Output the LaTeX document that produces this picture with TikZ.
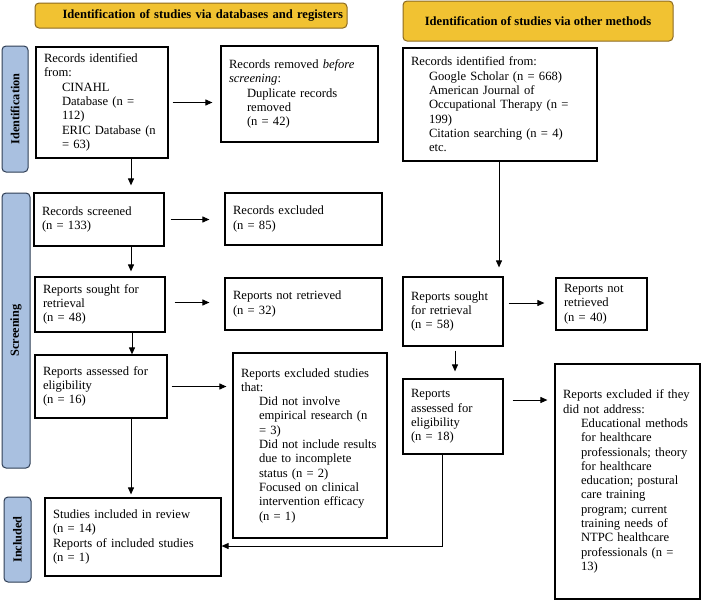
\documentclass[tikz,border=0pt]{standalone}
\usepackage{fontspec}
\setmainfont{Liberation Serif}
\usepackage{tikz}
\usetikzlibrary{positioning}
\usetikzlibrary{arrows.meta}
\usepackage{xcolor}

\definecolor{hdrgold}{RGB}{241,194,50}
\definecolor{hdredge}{RGB}{140,106,32}
\definecolor{sideblue}{RGB}{169,192,224}
\definecolor{sideedge}{RGB}{47,62,85}

\newcommand{\subin}{\hspace*{18pt}}

\tikzset{
  txt/.style={font=\fontsize{12.6}{14.3}\selectfont},
  box/.style={draw, line width=1.2pt, txt, align=left, inner xsep=8pt, inner ysep=2pt},
  hdr/.style={draw=hdredge, fill=hdrgold, line width=1pt, rounded corners=4pt, txt, font=\fontsize{12.6}{14.3}\selectfont\bfseries},
  side/.style={draw=sideedge, fill=sideblue, line width=1pt, rounded corners=4pt, rotate=90, font=\fontsize{12.3}{14}\selectfont\bfseries},
  arr/.style={-{Triangle[length=7pt,width=6pt]}, line width=1pt}
}

\begin{document}
\begin{tikzpicture}[x=1pt,y=-1pt]
\useasboundingbox (0,0) rectangle (701,600);

% headers
\node[hdr, minimum width=312, minimum height=25, text width=304, inner xsep=4pt, align=right] (hdrA) at (191,15.5) {Identification of studies via databases and registers};
\node[hdr, minimum width=270, minimum height=40] (hdrB) at (538,21) {Identification of studies via other methods};

% phase labels
\node[side, minimum width=126, minimum height=26] (sideI) at (15,109) {Identification};
\node[side, minimum width=275, minimum height=28] (sideS) at (16,330.5) {Screening};
\node[side, minimum width=85, minimum height=27] (sideN) at (17.5,539.5) {Included};

% databases and registers
\node[box, minimum width=132, minimum height=111, text width=116] (idDb) at (102,102.5)
{Records identified\\from:\\\subin CINAHL\\\subin Database (n =\\\subin 112)\\\subin ERIC Database (n\\\subin = 63)};
\node[box, minimum width=157, minimum height=96, text width=141] (removed) at (299.5,94)
{Records removed \textit{before}\\\textit{screening}:\\\subin Duplicate records\\\subin removed\\\subin (n = 42)};
\node[box, minimum width=130, minimum height=53, text width=114] (screened) at (99,219.5)
{Records screened\\(n = 133)};
\node[box, minimum width=157, minimum height=52, text width=141] (excluded) at (303.5,219)
{Records excluded\\(n = 85)};
\node[box, minimum width=130, minimum height=55, text width=114] (soughtA) at (100,304.5)
{Reports sought for\\retrieval\\(n = 48)};
\node[box, minimum width=157, minimum height=52, text width=141] (notRetA) at (303.5,304)
{Reports not retrieved\\(n = 32)};
\node[box, minimum width=132, minimum height=63, text width=116] (assessA) at (101,386.5)
{Reports assessed for\\eligibility\\(n = 16)};
\node[box, minimum width=154, minimum height=185, text width=138] (exclA) at (310,445.5)
{Reports excluded studies\\that:\\\subin Did not involve\\\subin empirical research (n\\\subin = 3)\\\subin Did not include results\\\subin due to incomplete\\\subin status (n = 2)\\\subin Focused on clinical\\\subin intervention efficacy\\\subin (n = 1)};
\node[box, minimum width=176, minimum height=78, text width=160] (included) at (133,537)
{Studies included in review\\(n = 14)\\Reports of included studies\\(n = 1)};

% other methods
\node[box, minimum width=194, minimum height=113, text width=178] (idOther) at (500,104.5)
{Records identified from:\\\subin Google Scholar (n = 668)\\\subin American Journal of\\\subin Occupational Therapy (n =\\\subin 199)\\\subin Citation searching (n = 4)\\\subin etc.};
\node[box, minimum width=100, minimum height=69, text width=84] (soughtB) at (453,311.5)
{Reports sought\\for retrieval\\(n = 58)};
\node[box, minimum width=91, minimum height=52, text width=75] (notRetB) at (601.5,304)
{Reports not\\retrieved\\(n = 40)};
\node[box, minimum width=100, minimum height=75, text width=84] (assessB) at (453,416.5)
{Reports\\assessed for\\eligibility\\(n = 18)};
\node[box, minimum width=145, minimum height=235, text width=129] (exclB) at (627.5,481.5)
{Reports excluded if they\\did not address:\\\subin Educational methods\\\subin for healthcare\\\subin professionals; theory\\\subin for healthcare\\\subin education; postural\\\subin care training\\\subin program; current\\\subin training needs of\\\subin NTPC healthcare\\\subin professionals (n =\\\subin 13)};

% arrows left column
\draw[arr, shorten <=4pt, shorten >=8pt] (idDb.east) -- (idDb.east -| removed.west);
\draw[arr, shorten >=7pt] ([xshift=29pt]idDb.south) -- ([xshift=29pt]idDb.south |- screened.north);
\draw[arr, shorten <=6pt, shorten >=15pt] (screened.east) -- (screened.east -| excluded.west);
\draw[arr, shorten >=5pt] ([xshift=32pt]screened.south) -- ([xshift=32pt]screened.south |- soughtA.north);
\draw[arr, shorten <=9pt, shorten >=15pt] ([yshift=2pt]soughtA.east) -- ([yshift=2pt]soughtA.east -| notRetA.west);
\draw[arr] ([xshift=32pt]soughtA.south) -- ([xshift=32pt]soughtA.south |- assessA.north);
\draw[arr, shorten <=4pt, shorten >=6pt] (assessA.east) -- (assessA.east -| exclA.west);
\draw[arr, shorten >=3pt] ([xshift=30pt]assessA.south) -- ([xshift=30pt]assessA.south |- included.north);

% arrows right column
\draw[arr, shorten >=9pt] ([xshift=-1pt]idOther.south) -- ([xshift=-1pt]idOther.south |- soughtB.north);
\draw[arr, shorten <=5pt, shorten >=11pt] ([yshift=8.5pt]soughtB.east) -- ([yshift=8.5pt]soughtB.east -| notRetB.west);
\draw[arr, shorten <=4pt, shorten >=7pt] ([xshift=2pt]soughtB.south) -- ([xshift=2pt]soughtB.south |- assessB.north);
\draw[arr, shorten <=9pt, shorten >=7pt] ([yshift=16.5pt]assessB.east) -- ([yshift=16.5pt]assessB.east -| exclB.west);
\draw[arr] ([xshift=-11pt]assessB.south) |- ([yshift=-9pt]included.east);

\end{tikzpicture}
\end{document}
